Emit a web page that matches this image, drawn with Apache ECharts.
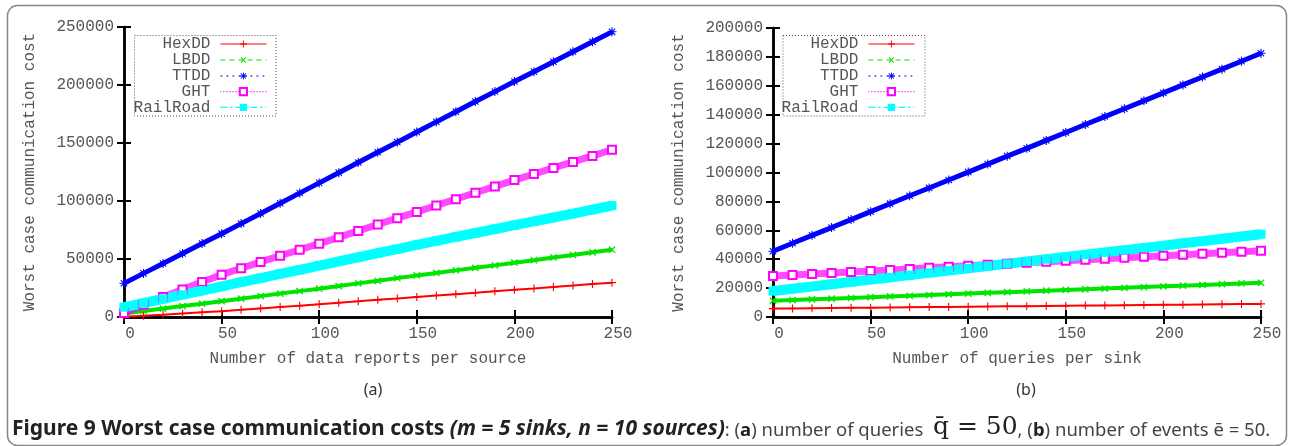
<!DOCTYPE html>
<html>
<head>
<meta charset="UTF-8">
<title>Figure 9</title>
<style>
  html, body { margin: 0; padding: 0; background: #fff; }
  #main { width: 1291px; height: 446px; }
</style>
</head>
<body>
<div id="main"></div>
<script src="https://cdn.jsdelivr.net/npm/echarts@6/dist/echarts.min.js"></script>
<script>
// x positions of the read points (both panels)
var xVals = [0, 10, 20, 30, 40, 50, 60, 70, 80, 90, 100, 110, 120, 130, 140, 150, 160, 170, 180, 190, 200, 210, 220, 230, 240, 250];

// (a) number of data reports per source
var aHexDD = [200, 1100, 2000, 3000, 4000, 5000, 6200, 7400, 8600, 9800, 11000, 12300, 13500, 14800, 16000, 17300, 18500, 19700, 20900, 22200, 23400, 24600, 25900, 27100, 28400, 29600];
var aLBDD = [3000, 5200, 7300, 9400, 11500, 13600, 15800, 18000, 20200, 22300, 24400, 26700, 29000, 31200, 33500, 35800, 38000, 40200, 42400, 44500, 46800, 49000, 51300, 53500, 55800, 58000];
var aTTDD = [29000, 37600, 46100, 54700, 63300, 71800, 80500, 89200, 98000, 106800, 115600, 124400, 133200, 142000, 150700, 159500, 168200, 177000, 185700, 194300, 203000, 211500, 220000, 228600, 237200, 245800];
var aGHT = [3500, 10500, 17200, 23800, 30200, 36500, 42000, 47500, 52800, 58000, 63200, 68700, 74200, 79700, 85200, 90600, 96100, 101600, 107100, 112600, 118000, 123300, 128500, 133700, 138900, 144200];
var aRail = [8500, 12000, 15600, 19200, 22800, 26400, 30000, 33600, 37100, 40700, 44300, 47900, 51500, 55000, 58600, 62200, 65600, 69000, 72400, 75800, 79200, 82500, 85800, 89100, 92500, 96000];

// (b) number of queries per sink
var bHexDD = [5800, 5930, 6060, 6190, 6320, 6450, 6580, 6710, 6840, 6970, 7100, 7230, 7360, 7490, 7620, 7750, 7880, 8010, 8140, 8270, 8400, 8530, 8660, 8790, 8920, 9050];
var bLBDD = [11200, 11700, 12200, 12700, 13200, 13700, 14200, 14700, 15200, 15700, 16200, 16700, 17200, 17700, 18200, 18700, 19200, 19700, 20200, 20700, 21200, 21700, 22200, 22700, 23200, 23700];
var bTTDD = [45500, 51000, 56500, 61900, 67400, 72900, 78400, 83900, 89300, 94800, 100300, 105800, 111300, 116700, 122200, 127700, 133200, 138700, 144100, 149600, 155100, 160600, 166100, 171500, 177000, 182500];
var bGHT = [28400, 29100, 29800, 30500, 31200, 31900, 32600, 33300, 34000, 34700, 35400, 36100, 36800, 37500, 38200, 38900, 39600, 40300, 41000, 41700, 42400, 43100, 43800, 44500, 45200, 45900];
var bRail = [18000, 19600, 21100, 22700, 24300, 25900, 27400, 29000, 30600, 32100, 33700, 35300, 36800, 38400, 40000, 41600, 43100, 44700, 46300, 47800, 49400, 51000, 52500, 54100, 55700, 57300];

var names = ['HexDD', 'LBDD', 'TTDD', 'GHT', 'RailRoad'];
var panelA = [aHexDD, aLBDD, aTTDD, aGHT, aRail];
var panelB = [bHexDD, bLBDD, bTTDD, bGHT, bRail];

var mono = '"Liberation Mono", "DejaVu Sans Mono", monospace';
var sans = '"Noto Sans", "Open Sans", sans-serif';

var plusPath = 'path://M4.3,0h1.4v4.3h4.3v1.4h-4.3v4.3h-1.4v-4.3h-4.3v-1.4h4.3z';
var starPath = 'path://M4.4,0h1.2v3.5l2.5-2.5l0.85,0.85l-2.5,2.5h3.55v1.2h-3.55l2.5,2.5l-0.85,0.85l-2.5-2.5v3.6h-1.2v-3.6l-2.5,2.5l-0.85-0.85l2.5-2.5h-3.55v-1.2h3.55l-2.5-2.5l0.85-0.85l2.5,2.5z';

// look of each curve: band width, marker, legend dash
var looks = {
  HexDD:    { color: '#ff0000', band: 2,  symbol: plusPath, rotate: 0,  size: 8, dash: 'solid' },
  LBDD:     { color: '#00e400', band: 4,  symbol: plusPath, rotate: 45, size: 9, dash: [5, 4] },
  TTDD:     { color: '#0000ff', band: 5,  symbol: starPath, rotate: 0,  size: 9, dash: [2, 4] },
  GHT:      { color: '#ff00ff', band: 7,  symbol: 'emptyRect', rotate: 0, size: 8, dash: [1, 2] },
  RailRoad: { color: '#00ffff', band: 10, symbol: 'rect', rotate: 0, size: 9, dash: [7, 3, 2, 3] }
};

function buildSeries(values, g) {
  return names.map(function (n, i) {
    var lk = looks[n];
    return {
      name: n,
      type: 'line',
      xAxisIndex: g * 2,
      yAxisIndex: g * 2,
      data: xVals.map(function (x, k) { return [x, values[i][k]]; }),
      symbol: lk.symbol,
      symbolRotate: lk.rotate,
      symbolSize: lk.size,
      showSymbol: true,
      silent: true,
      animation: false,
      lineStyle: { color: lk.color, width: lk.band, opacity: n === 'GHT' ? 0.7 : 1 },
      itemStyle: { color: lk.color, borderColor: lk.color, borderWidth: n === 'GHT' ? 1.5 : 0 }
    };
  });
}

function plain(v) { return String(v); }

function xAxes(g, name) {
  var base = {
    type: 'value', gridIndex: g, min: 0, max: 250, interval: 50,
    axisLine: { lineStyle: { color: '#000', width: 2.5 } },
    axisTick: { inside: true, length: 7, lineStyle: { color: '#000', width: 2 } },
    splitLine: { show: false }
  };
  return [
    Object.assign({}, base, {
      name: name, nameLocation: 'middle', nameGap: 34,
      nameTextStyle: { fontFamily: mono, fontSize: 16, color: '#555' },
      axisLabel: { margin: 9, fontFamily: mono, fontSize: 16, color: '#555', padding: [0, 0, 0, 12], formatter: plain }
    }),
    Object.assign({}, base, { position: 'top', axisLabel: { show: false } })
  ];
}

function yAxes(g, max, step) {
  var base = {
    type: 'value', gridIndex: g, min: 0, max: max, interval: step,
    axisLine: { lineStyle: { color: '#000', width: 2.5 } },
    axisTick: { inside: true, length: 7, lineStyle: { color: '#000', width: 2 } },
    splitLine: { show: false }
  };
  return [
    Object.assign({}, base, {
      name: 'Worst case communication cost', nameLocation: 'middle', nameGap: 86, nameRotate: 90,
      nameTextStyle: { fontFamily: mono, fontSize: 16, color: '#555' },
      axisLabel: { margin: 10, fontFamily: mono, fontSize: 16, color: '#555', formatter: plain }
    }),
    Object.assign({}, base, { position: 'right', axisLabel: { show: false } })
  ];
}

// one legend per entry so icons line up on the right, text right-aligned
var rowY = [44, 60, 76, 91.6, 107.4];
function legends(rightPx) {
  return names.map(function (n, i) {
    var lk = looks[n];
    return {
      right: rightPx, top: rowY[i] - 8, padding: 0,
      orient: 'vertical', align: 'right', selectedMode: false,
      itemWidth: 46, itemHeight: 9,
      textStyle: { fontFamily: mono, fontSize: 16, color: '#555', lineHeight: 16, padding: [0, 5, 0, 0] },
      data: [{
        name: n,
        lineStyle: { color: lk.color, width: 1.2, type: lk.dash, opacity: 1 },
        itemStyle: { color: lk.color, borderColor: lk.color, borderWidth: n === 'GHT' ? 1.2 : 0 }
      }]
    };
  });
}

var chart = echarts.init(document.getElementById('main'));
chart.setOption({
  backgroundColor: '#fff',
  animation: false,
  grid: [
    { left: 124, top: 27, width: 488, height: 290, show: false },
    { left: 773, top: 28, width: 488, height: 289, show: false }
  ],
  xAxis: xAxes(0, 'Number of data reports per source').concat(xAxes(1, 'Number of queries per sink')),
  yAxis: yAxes(0, 250000, 50000).concat(yAxes(1, 200000, 20000)),
  legend: legends(1291 - 267).concat(legends(1291 - 915)),
  title: [
    { text: '(a)', left: 373, top: 382, textAlign: 'center', padding: 0,
      textStyle: { fontFamily: sans, fontSize: 16, fontWeight: 'normal', color: '#333' } },
    { text: '(b)', left: 1026, top: 382, textAlign: 'center', padding: 0,
      textStyle: { fontFamily: sans, fontSize: 16, fontWeight: 'normal', color: '#333' } },
    {
      text: '{b|Figure 9 Worst case communication costs }{bi|(m = 5 sinks, n = 10 sources)}{n|: (}{nb|a}{n|) number of queries  }{q|q\u0304 = 50}{n|, (}{nb|b}{n|) number of events \u0113 = 50.}',
      left: 12, top: 415, padding: 0,
      textStyle: {
        fontWeight: 'normal',
        rich: {
          b: { fontFamily: sans, fontSize: 21, fontWeight: 'bold', color: '#222', verticalAlign: 'bottom' },
          bi: { fontFamily: sans, fontSize: 21, fontWeight: 'bold', fontStyle: 'italic', color: '#222', verticalAlign: 'bottom' },
          nb: { fontFamily: sans, fontSize: 18.5, fontWeight: 'bold', color: '#222', verticalAlign: 'bottom' },
          n: { fontFamily: sans, fontSize: 18.5, fontWeight: 'normal', color: '#444', verticalAlign: 'bottom' },
          q: { fontFamily: '"DejaVu Serif", serif', fontSize: 25, fontWeight: 'normal', color: '#222', verticalAlign: 'bottom' }
        }
      }
    }
  ],
  graphic: [
    { type: 'rect', silent: true, z: 0, shape: { x: 7.5, y: 5.5, width: 1279, height: 440, r: 10 },
      style: { fill: null, stroke: '#888', lineWidth: 1.5 } },
    { type: 'rect', silent: true, z: 10, shape: { x: 134.5, y: 35.5, width: 141.5, height: 80.5 },
      style: { fill: null, stroke: '#555', lineWidth: 1, lineDash: [1, 2] } },
    { type: 'rect', silent: true, z: 10, shape: { x: 783, y: 35.5, width: 142, height: 80.5 },
      style: { fill: null, stroke: '#555', lineWidth: 1, lineDash: [1, 2] } }
  ],
  series: buildSeries(panelA, 0).concat(buildSeries(panelB, 1))
});
</script>
</body>
</html>
